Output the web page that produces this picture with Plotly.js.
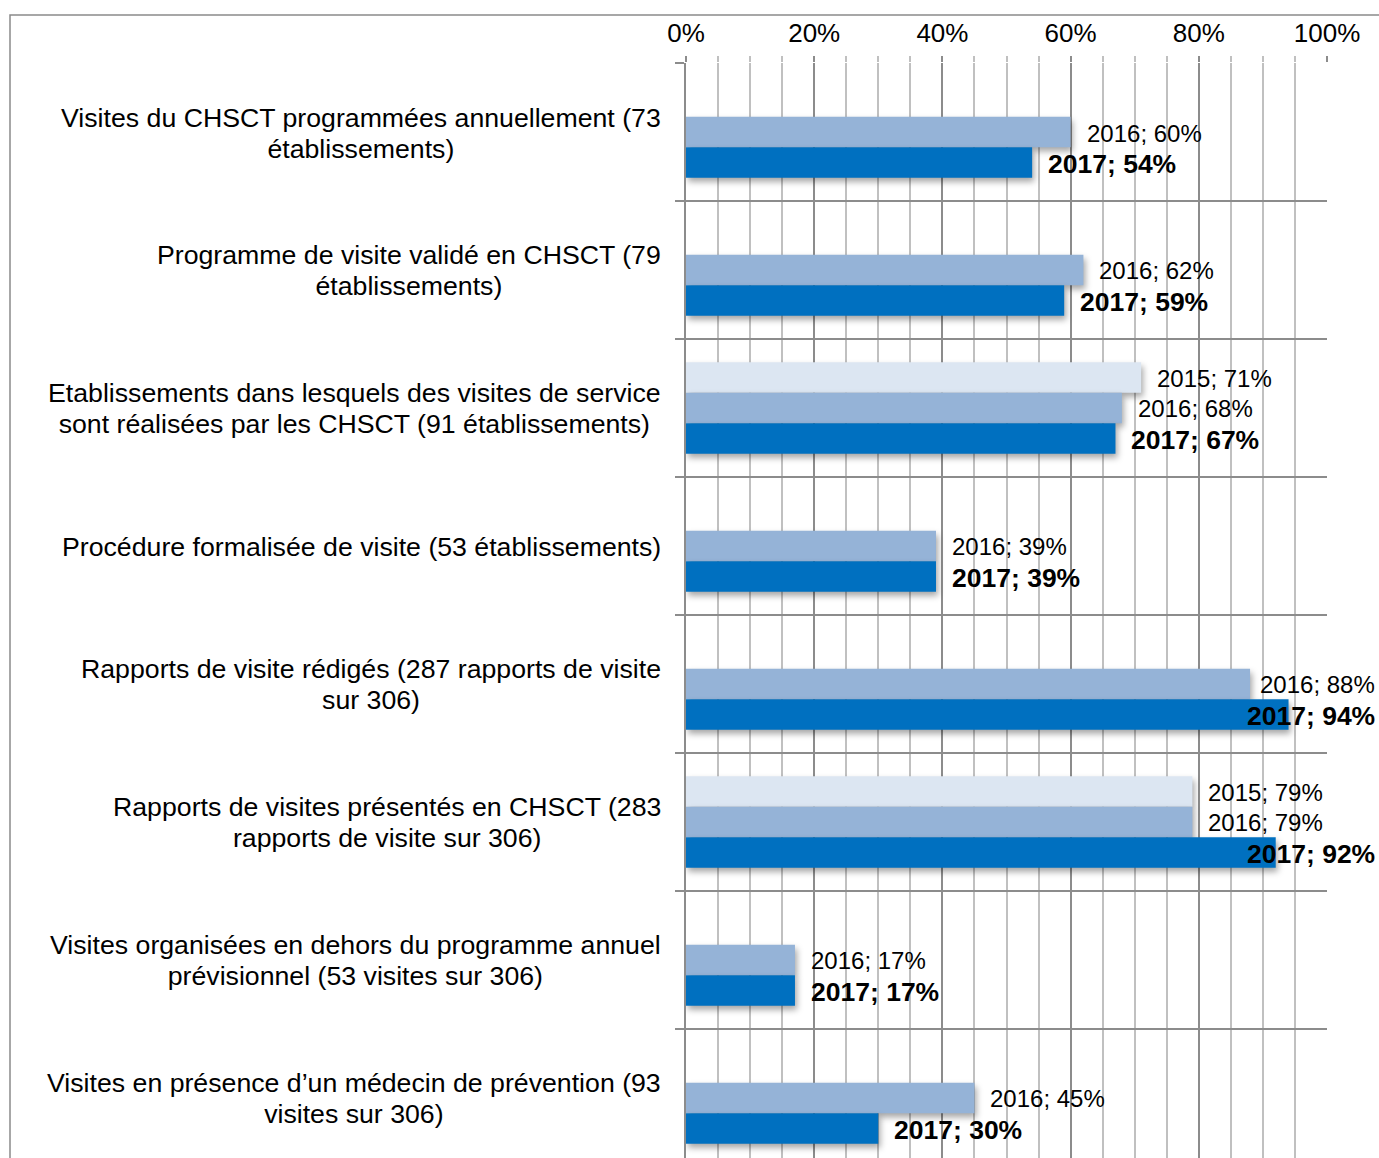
<!DOCTYPE html>
<html>
<head>
<meta charset="utf-8">
<script src="https://cdn.plot.ly/plotly-3.0.1.min.js"></script>
<style>
  body { margin: 0; padding: 0; background: #fff; }
  #chart { width: 1379px; height: 1158px; }
</style>
</head>
<body>
<div id="chart"></div>
<script>
// categories, top to bottom
const categories = [
  'Visites du CHSCT programmées annuellement (73<br>établissements)',
  'Programme de visite validé en CHSCT (79<br>établissements)',
  'Etablissements dans lesquels des visites de service<br>sont réalisées par les CHSCT (91 établissements)',
  'Procédure formalisée de visite (53 établissements)',
  'Rapports de visite rédigés (287 rapports de visite<br>sur 306)',
  'Rapports de visites présentés en CHSCT (283<br>rapports de visite sur 306)',
  'Visites organisées en dehors du programme annuel<br>prévisionnel (53 visites sur 306)',
  'Visites en présence d’un médecin de prévention (93<br>visites sur 306)'
];

const years = ['2015', '2016', '2017'];
const values2015 = [null, null, 0.71, null, null, 0.79, null, null];
const values2016 = [0.60, 0.62, 0.68, 0.39, 0.88, 0.79, 0.17, 0.45];
const values2017 = [0.54, 0.59, 0.67, 0.39, 0.94, 0.92, 0.17, 0.30];

const colors = ['#dce6f2', '#95b3d7', '#0070c0'];
const FONT = 'Liberation Sans, Arial, sans-serif';
const bargap = 0.336;
const slot = (1 - bargap) / 3;

let series = [values2015, values2016, values2017];

let data = series.map((vals, k) => ({
  type: 'bar',
  orientation: 'h',
  name: years[k],
  y: categories,
  x: vals,
  marker: {color: colors[k], line: {width: 0}},
  hoverinfo: 'x+name'
}));

let annotations = [];

// category labels: right aligned block, lines centered inside
categories.forEach((c, i) => {
  let twoLines = c.indexOf('<br>') >= 0;
  annotations.push({
    xref: 'paper', yref: 'y',
    x: 0, y: i,
    xanchor: 'right', yanchor: 'middle',
    xshift: -23,
    yshift: twoLines ? -3 : -1,
    text: c,
    align: 'center',
    showarrow: false,
    font: {family: FONT, size: 26.7, color: '#000'}
  });
});

// data labels "year; value"
series.forEach((vals, k) => {
  vals.forEach((v, i) => {
    if (v === null) return;
    let bold = years[k] === '2017';
    let txt = years[k] + '; ' + Math.round(v * 100) + '%';
    if (bold) txt = '<b>' + txt + '</b>';
    let tooLong = v > 0.85;
    annotations.push({
      xref: 'x', yref: 'y',
      x: tooLong ? 1 : v,
      y: i + (k - 1) * slot,
      xanchor: tooLong ? 'right' : 'left',
      yanchor: 'middle',
      xshift: tooLong ? 50 : 14,
      yshift: -1,
      text: txt,
      showarrow: false,
      font: {family: FONT, size: bold ? 26.5 : 24, color: '#000'}
    });
  });
});

// chart area border (Excel frame, cut at right/bottom)
let shapes = [{
  type: 'rect', xref: 'paper', yref: 'paper',
  x0: -1.0546, x1: 1.3, y0: -0.2, y1: 1.0438,
  line: {color: '#8a8a8a', width: 1.5},
  fillcolor: 'rgba(0,0,0,0)',
  layer: 'below'
}];

let layout = {
  width: 1379,
  height: 1158,
  margin: {l: 686, r: 52, t: 63, b: 0, pad: 0},
  paper_bgcolor: '#fff',
  plot_bgcolor: '#fff',
  showlegend: false,
  barmode: 'group',
  bargap: bargap,
  bargroupgap: 0,
  font: {family: FONT, color: '#000'},
  xaxis: {
    side: 'top',
    range: [0, 1],
    dtick: 0.2,
    tickformat: '.0%',
    ticks: 'outside',
    ticklen: 6,
    tickcolor: '#8c8c8c',
    tickwidth: 1.5,
    ticklabelstandoff: 4,
    tickfont: {family: FONT, size: 26, color: '#000'},
    showgrid: true,
    gridcolor: '#8c8c8c',
    gridwidth: 1.6,
    zeroline: false,
    showline: false,
    minor: {
      dtick: 0.05,
      showgrid: true,
      gridcolor: '#c0c0c0',
      gridwidth: 1.6,
      ticks: 'outside',
      ticklen: 6,
      tickcolor: '#c0c0c0',
      tickwidth: 1.5
    },
    fixedrange: true
  },
  yaxis: {
    type: 'category',
    range: [7.435, -0.5],
    showticklabels: false,
    tickson: 'boundaries',
    ticks: 'outside',
    ticklen: 9,
    tickcolor: '#8c8c8c',
    tickwidth: 1.6,
    showgrid: true,
    gridcolor: '#8c8c8c',
    gridwidth: 1.6,
    showline: true,
    linecolor: '#8c8c8c',
    linewidth: 1.6,
    fixedrange: true
  },
  annotations: annotations,
  shapes: shapes
};

Plotly.newPlot('chart', data, layout, {displayModeBar: false, responsive: false}).then(function(gd) {
  // soft drop shadow like the original bars
  gd.querySelectorAll('.barlayer .point path').forEach(function(p) {
    p.style.filter = 'drop-shadow(2px 4px 3px rgba(0,0,0,0.35))';
  });
  // tighter line spacing for the wrapped category labels (Excel ~1.17em)
  gd.querySelectorAll('.annotation-text tspan.line').forEach(function(t) {
    let dy = t.getAttribute('dy');
    if (dy && parseFloat(dy) > 0) t.setAttribute('dy', '1.17em');
  });
});
</script>
</body>
</html>
